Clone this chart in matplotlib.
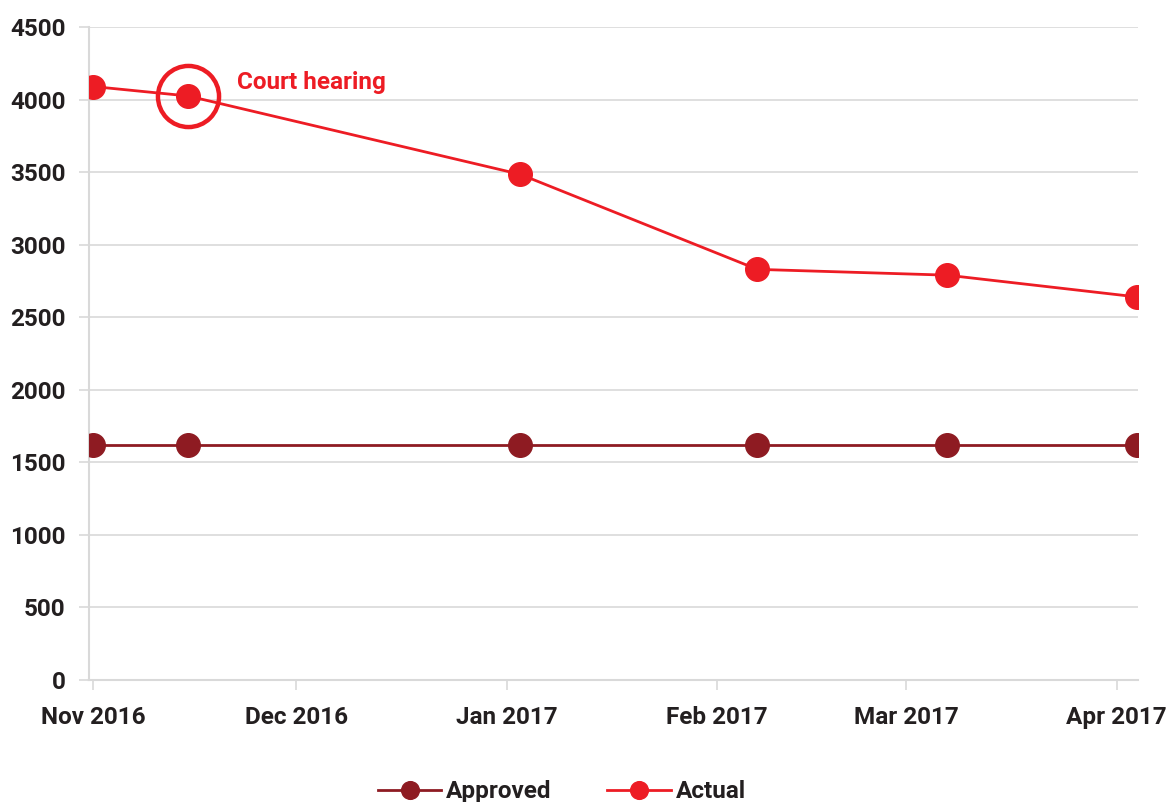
import matplotlib
matplotlib.use("Agg")
import matplotlib.pyplot as plt
import matplotlib.dates as mdates
import numpy as np
import datetime as dt

plt.rcParams['font.family'] = ['Roboto', 'DejaVu Sans']
plt.rcParams['font.weight'] = 'bold'

#
# Data
#
dates = ['2016-11-01', '2016-11-15', '2017-01-03', '2017-02-07', '2017-03-07', '2017-04-04']
approved = [1620, 1620, 1620, 1620, 1620, 1620]
actual = [4090, 4025, 3485, 2830, 2790, 2640]
tick_months = ['2016-11-01', '2016-12-01', '2017-01-01', '2017-02-01', '2017-03-01', '2017-04-01']
hearing_idx = 1

x = [dt.datetime.strptime(d, '%Y-%m-%d') for d in dates]
xt = [dt.datetime.strptime(d, '%Y-%m-%d') for d in tick_months]

red = '#ED1C24'
dark = '#8E1B22'
txt = '#231F20'
grey = '#D9D9D9'

fig = plt.figure(figsize=(11.68, 8.02), dpi=100)
ax = fig.add_axes([0.0762, 0.1521, 0.8981, 0.8142])

ax.plot(x, approved, color=dark, lw=2.0, marker='o', ms=17, label='Approved', zorder=3)
ax.plot(x, actual, color=red, lw=2.0, marker='o', ms=17, label='Actual', zorder=4)

# ring round the court hearing point
ax.plot([x[hearing_idx]], [actual[hearing_idx]], marker='o', ms=44, mfc='none',
        mec=red, mew=3.2, ls='none', zorder=5)
ax.annotate('Court hearing', xy=(x[hearing_idx], actual[hearing_idx]),
            xytext=(35, 10), textcoords='offset points', color=red,
            fontsize=17.5, fontweight='bold', va='center', ha='left')

ax.set_ylim(0, 4500)
ax.set_yticks(np.arange(0, 4501, 500))
ax.set_xlim(x[0] - dt.timedelta(days=0.6), x[-1] + dt.timedelta(days=0.15))
ax.set_xticks(xt)
ax.xaxis.set_major_formatter(mdates.DateFormatter('%b %Y'))

ax.grid(axis='y', color=grey, lw=1.2, zorder=0)
ax.set_axisbelow(True)
for s in ['top', 'right']:
    ax.spines[s].set_visible(False)
for s in ['left', 'bottom']:
    ax.spines[s].set_color(grey)
    ax.spines[s].set_linewidth(1.5)
ax.tick_params(axis='both', colors=grey, length=7, width=1.2, labelsize=17.5, labelcolor=txt)
ax.tick_params(axis='x', pad=12)
ax.tick_params(axis='y', pad=10)
for lab in ax.get_xticklabels() + ax.get_yticklabels():
    lab.set_fontweight('bold')

fig.legend(loc='center', bbox_to_anchor=(0.481, 0.013), ncol=2, frameon=False,
           fontsize=17.5, handlelength=2.6, handletextpad=0.2, columnspacing=2.3,
           labelcolor=txt, markerscale=0.75)

fig.savefig('out.png', dpi=100)
